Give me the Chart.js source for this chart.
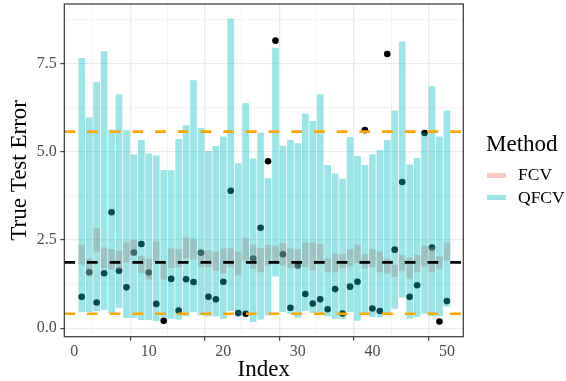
<!DOCTYPE html>
<html>
<head>
<meta charset="utf-8">
<script src="https://cdn.jsdelivr.net/npm/chart.js@4.4.1/dist/chart.umd.min.js"></script>
<style>
  html, body { margin: 0; padding: 0; background: #fff; }
  #wrap { position: relative; width: 566px; height: 381px; }
  #chart { position: absolute; left: 0; top: 0; }
  .legend-title { position: absolute; left: 486px; top: 132px; font: 23px/23px 'Liberation Serif', serif; color: #000; white-space: nowrap; }
  .legend-key { position: absolute; left: 487px; width: 19px; height: 5px; }
  .legend-label { position: absolute; left: 518px; font: 17.5px/17.5px 'Liberation Serif', serif; color: #000; white-space: nowrap; }
</style>
</head>
<body>
<div id="wrap">
  <canvas id="chart" width="566" height="381"></canvas>
  <div class="legend-title">Method</div>
  <div class="legend-key" id="key-fcv" style="top: 172.5px;"></div>
  <div class="legend-label" style="top: 165.5px;">FCV</div>
  <div class="legend-key" id="key-qfcv" style="top: 194.5px;"></div>
  <div class="legend-label" style="top: 188.5px;">QFCV</div>
</div>
<script>
const indexes = [1, 2, 3, 4, 5, 6, 7, 8, 9, 10, 11, 12, 13, 14, 15, 16, 17, 18, 19, 20,
  21, 22, 23, 24, 25, 26, 27, 28, 29, 30, 31, 32, 33, 34, 35, 36, 37, 38, 39, 40,
  41, 42, 43, 44, 45, 46, 47, 48, 49, 50];

// QFCV interval per index
const qfcvLow = [0.47, 0.47, 0.50, 0.53, 0.44, 0.59, 0.30, 0.30, 0.24, 0.24,
  0.21, 0.33, 0.28, 0.26, 0.35, 0.47, 0.38, 0.35, 0.35, 0.28,
  0.50, 0.35, 0.45, 0.19, 0.26, 0.38, 1.48, 0.47, 0.42, 0.31,
  0.50, 0.44, 0.40, 0.35, 0.28, 0.28, 0.47, 0.22, 0.42, 0.33,
  0.33, 0.39, 0.56, 0.88, 0.28, 0.33, 0.42, 0.35, 0.35, 0.62];
const qfcvHigh = [7.66, 5.97, 6.97, 7.85, 5.63, 6.63, 5.61, 4.92, 5.33, 4.95,
  4.89, 4.48, 4.47, 5.36, 5.75, 7.03, 5.67, 5.02, 5.16, 5.43,
  8.77, 4.67, 6.38, 4.81, 5.54, 4.25, 7.95, 5.17, 5.33, 5.24,
  6.08, 5.87, 6.63, 4.62, 4.38, 4.23, 5.42, 4.88, 4.62, 4.93,
  5.05, 5.33, 6.17, 8.13, 4.64, 4.82, 5.54, 6.86, 5.43, 6.17];

// FCV interval per index
const fcvLow = [1.82, 1.50, 2.16, 1.72, 1.68, 1.68, 1.88, 2.06, 1.57, 1.39,
  1.88, 1.39, 1.72, 1.74, 1.98, 1.96, 1.74, 1.74, 1.65, 1.56,
  1.74, 1.51, 1.93, 1.70, 1.60, 1.79, 1.88, 1.79, 1.72, 1.71,
  1.74, 1.65, 1.82, 1.60, 1.60, 1.72, 1.76, 1.86, 1.70, 1.74,
  1.60, 1.56, 1.46, 1.65, 1.42, 1.60, 1.76, 1.60, 1.70, 1.93];
const fcvHigh = [2.36, 1.98, 2.84, 2.28, 2.24, 2.19, 2.42, 2.50, 2.05, 1.96,
  2.45, 1.82, 2.25, 2.23, 2.57, 2.54, 2.20, 2.21, 2.17, 2.26,
  2.26, 2.17, 2.55, 2.36, 2.26, 2.36, 2.33, 2.41, 2.26, 2.23,
  2.42, 2.42, 2.38, 1.98, 2.12, 2.10, 2.23, 2.36, 2.10, 2.23,
  2.17, 1.98, 1.79, 2.07, 2.00, 2.07, 2.33, 2.29, 2.03, 2.42];

// true test error points
const trueError = [0.89, 1.59, 0.73, 1.56, 3.29, 1.63, 1.16, 2.15, 2.39, 1.58,
  0.69, 0.21, 1.40, 0.50, 1.39, 1.31, 2.14, 0.89, 0.82, 1.32,
  3.90, 0.43, 0.41, 1.98, 2.85, 4.74, 8.16, 2.10, 0.58, 1.78,
  0.97, 0.70, 0.82, 0.54, 1.11, 0.42, 1.18, 1.32, 5.62, 0.56,
  0.49, 7.78, 2.23, 4.15, 0.89, 1.22, 5.54, 2.29, 0.19, 0.77];

const refValues = [0.41, 1.87, 5.58];
const refColors = ['#FFA500', '#000000', '#FFA500'];

const xMajorTicks = [0, 10, 20, 30, 40, 50];
const xMinorTicks = [5, 15, 25, 35, 45];
const yMajorTicks = [0, 2.5, 5, 7.5];
const yMinorTicks = [1.25, 3.75, 6.25, 8.75];

const QFCV_FILL = 'rgba(0, 191, 196, 0.4)';
const FCV_FILL = 'rgba(248, 118, 109, 0.4)';
const SERIF = "'Liberation Serif', 'DejaVu Serif', serif";

document.getElementById('key-fcv').style.background = FCV_FILL;
document.getElementById('key-qfcv').style.background = QFCV_FILL;

Chart.defaults.font.family = SERIF;

function tickList(major, minor) {
  return [...major, ...minor].sort((a, b) => a - b).map((value) => ({ value }));
}

function gridFor(major) {
  return {
    color: '#ebebeb',
    lineWidth: (c) => (c.tick && major.includes(c.tick.value) ? 1.3 : 0.6),
    tickColor: (c) => (c.tick && major.includes(c.tick.value) ? '#333333' : 'rgba(0,0,0,0)'),
    tickWidth: 1.1,
    tickLength: 4,
  };
}

// dashed reference lines + panel border
const panelPlugin = {
  id: 'panel',
  afterDatasetsDraw(chart) {
    const { ctx, chartArea: a } = chart;
    const y = chart.scales.y;
    ctx.save();
    ctx.lineWidth = 2.6;
    ctx.setLineDash([10.7, 12]);
    refValues.forEach((v, k) => {
      const py = y.getPixelForValue(v);
      ctx.strokeStyle = refColors[k];
      ctx.beginPath();
      ctx.moveTo(a.left, py);
      ctx.lineTo(a.right, py);
      ctx.stroke();
    });
    ctx.setLineDash([]);
    ctx.strokeStyle = '#333333';
    ctx.lineWidth = 1.2;
    ctx.strokeRect(a.left, a.top, a.right - a.left, a.bottom - a.top);
    ctx.restore();
  },
};

new Chart(document.getElementById('chart'), {
  type: 'bar',
  data: {
    datasets: [
      {
        label: 'QFCV',
        data: indexes.map((x, k) => ({ x, y: [qfcvLow[k], qfcvHigh[k]] })),
        backgroundColor: QFCV_FILL,
        barThickness: 6,
        grouped: false,
        order: 1,
      },
      {
        label: 'FCV',
        data: indexes.map((x, k) => ({ x, y: [fcvLow[k], fcvHigh[k]] })),
        backgroundColor: FCV_FILL,
        barThickness: 6,
        grouped: false,
        order: 2,
      },
      {
        type: 'scatter',
        label: 'True Test Error',
        data: indexes.map((x, k) => ({ x, y: trueError[k] })),
        backgroundColor: '#000000',
        borderWidth: 0,
        pointRadius: 3.3,
        order: 3,
      },
    ],
  },
  options: {
    responsive: false,
    animation: false,
    devicePixelRatio: 1,
    layout: { padding: { left: 0, top: 3.3, right: 102.7, bottom: 0 } },
    plugins: { legend: { display: false }, tooltip: { enabled: false } },
    scales: {
      x: {
        type: 'linear',
        min: -1.34,
        max: 52.2,
        offset: false,
        afterBuildTicks: (s) => { s.ticks = tickList(xMajorTicks, xMinorTicks); },
        afterFit: (s) => { s.height = 44.3; },
        border: { display: false },
        grid: gridFor(xMajorTicks),
        ticks: {
          autoSkip: false,
          maxRotation: 0,
          padding: 1,
          color: '#4d4d4d',
          font: { size: 16 },
          callback: (v) => (xMajorTicks.includes(v) ? String(v) : ''),
        },
        title: {
          display: true,
          text: 'Index',
          color: '#000000',
          font: { size: 23, lineHeight: 0.94 },
          padding: { top: 0, bottom: 0 },
        },
      },
      y: {
        min: -0.24,
        max: 9.2,
        afterBuildTicks: (s) => { s.ticks = tickList(yMajorTicks, yMinorTicks); },
        afterFit: (s) => {
          s.width = 64.3;
          s.paddingTop = 0;
          s.paddingBottom = 0;
        },
        border: { display: false },
        grid: gridFor(yMajorTicks),
        ticks: {
          padding: 3.6,
          color: '#4d4d4d',
          font: { size: 16 },
          callback: (v) => (yMajorTicks.includes(v) ? v.toFixed(1) : ''),
        },
        title: {
          display: true,
          text: 'True Test Error',
          color: '#000000',
          font: { size: 23, lineHeight: 1 },
          padding: { top: 8, bottom: 0 },
        },
      },
    },
  },
  plugins: [panelPlugin],
});
</script>
</body>
</html>
